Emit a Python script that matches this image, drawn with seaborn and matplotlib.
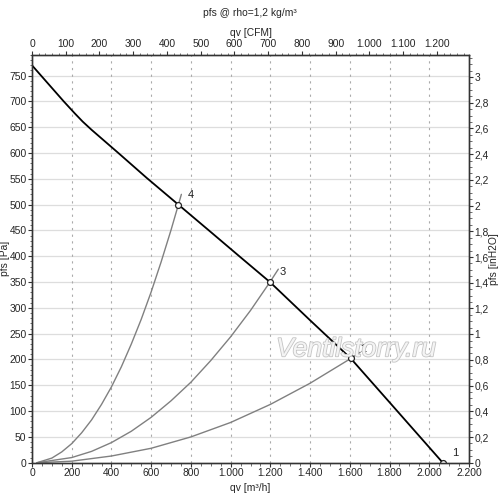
import pandas as pd
import seaborn as sns
import matplotlib.pyplot as plt
import matplotlib.ticker as mticker
import matplotlib.patheffects as pe

# fan curve (qv in m3/h, pfs in Pa)
qv_fan = [0, 80, 160, 215, 255, 300, 435, 577, 737, 900, 1050, 1198, 1400, 1605, 1800, 2068]
pfs_fan = [770, 735, 700, 677, 661, 645, 600, 552, 500, 447, 398, 350, 276, 202, 117, 0]

# operating points
op_qv = [2068, 1605, 1198, 737]
op_pfs = [0, 202, 350, 500]
op_labels = ['1', '2', '3', '4']

# system curves through points 4, 3 and 2
sys4_qv = [25, 100, 150, 200, 250, 300, 350, 400, 450, 500, 550, 600, 650, 700, 737, 752]
sys4_pfs = [0, 9, 21, 37, 58, 83, 113, 147, 186, 230, 278, 331, 389, 451, 500, 520]
sys3_qv = [25, 200, 300, 400, 500, 600, 700, 800, 900, 1000, 1100, 1198, 1240]
sys3_pfs = [0, 10, 22, 39, 61, 88, 120, 156, 198, 244, 295, 350, 375]
sys2_qv = [25, 200, 400, 600, 800, 1000, 1200, 1400, 1605, 1652]
sys2_pfs = [0, 3, 13, 28, 50, 78, 113, 154, 202, 214]

PA_PER_INH2O = 249.089
M3H_PER_CFM = 1.69901
XMAX, YMAX = 2200, 790
FS = 7.4

fan = pd.DataFrame({'qv': qv_fan, 'pfs': pfs_fan})
sys_df = pd.concat([
    pd.DataFrame({'qv': sys4_qv, 'pfs': sys4_pfs, 'curve': '4'}),
    pd.DataFrame({'qv': sys3_qv, 'pfs': sys3_pfs, 'curve': '3'}),
    pd.DataFrame({'qv': sys2_qv, 'pfs': sys2_pfs, 'curve': '2'}),
])

sns.set_style('white')
plt.rcParams['font.family'] = ['Liberation Sans', 'DejaVu Sans']
plt.rcParams['font.size'] = FS

fig = plt.figure(figsize=(5.0, 4.99), dpi=100)
ax = fig.add_axes([0.064, 0.0727, 0.874, 0.8171])

# grid: solid horizontal, dotted vertical
for y in range(50, YMAX, 50):
    ax.axhline(y, color='#dddddd', lw=0.9, zorder=0)
for x in range(200, XMAX, 200):
    ax.axvline(x, color='#aaaaaa', lw=0.8, ls=(0, (2, 4)), zorder=0)

sns.lineplot(data=sys_df, x='qv', y='pfs', units='curve', estimator=None,
             sort=False, color='#808080', lw=1.0, ax=ax, zorder=2)
sns.lineplot(data=fan, x='qv', y='pfs', estimator=None, sort=False,
             color='black', lw=1.3, ax=ax, zorder=3)
ax.scatter(op_qv, op_pfs, s=18, facecolor='white', edgecolor='#222222',
           lw=0.9, zorder=4)
for q, p, lab in zip(op_qv, op_pfs, op_labels):
    ax.annotate(lab, (q, p), xytext=(7, 5), textcoords='offset points',
                fontsize=8, color='#222222')

ax.set_xlim(0, XMAX)
ax.set_ylim(0, YMAX)
ax.set_xticks(range(0, XMAX + 1, 200))
ax.set_yticks(range(0, 751, 50))
ax.xaxis.set_minor_locator(mticker.MultipleLocator(50))
ax.yaxis.set_minor_locator(mticker.MultipleLocator(10))
ax.xaxis.set_major_formatter(mticker.FuncFormatter(
    lambda v, _: f'{int(v):,}'.replace(',', '.')))
ax.set_xlabel('qv [m³/h]', va='center')
ax.set_ylabel('pfs [Pa]', va='center')
ax.xaxis.set_label_coords(0.5, -0.061)
ax.yaxis.set_label_coords(-0.062, 0.5)

# secondary axes
axr = ax.twinx()
axr.set_ylim(0, YMAX / PA_PER_INH2O)
axr.set_yticks([i * 0.2 for i in range(16)])
axr.yaxis.set_minor_locator(mticker.MultipleLocator(0.05))
axr.yaxis.set_major_formatter(mticker.FuncFormatter(
    lambda v, _: (f'{v:.1f}'.rstrip('0').rstrip('.')).replace('.', ',')))
axr.set_ylabel('pfs [inH2O]', rotation=90, va='center')
axr.yaxis.set_label_coords(1.058, 0.5)

axt = ax.twiny()
axt.set_xlim(0, XMAX / M3H_PER_CFM)
axt.set_xticks(range(0, 1201, 100))
axt.xaxis.set_minor_locator(mticker.MultipleLocator(20))
axt.xaxis.set_major_formatter(mticker.FuncFormatter(
    lambda v, _: f'{int(v):,}'.replace(',', '.')))
axt.set_xlabel('qv [CFM]', va='center')
axt.xaxis.set_label_coords(0.5, 1.054)

for a in (ax, axr, axt):
    for s in a.spines.values():
        s.set_color('#333333')
        s.set_linewidth(0.9)
    a.tick_params(which='major', direction='out', length=3, width=0.8,
                  color='#333333', pad=1, labelsize=FS)
    a.tick_params(which='minor', direction='out', length=1.8, width=0.6,
                  color='#555555')
ax.tick_params(axis='both', which='both', bottom=True, left=True,
               top=False, right=False)
axr.tick_params(which='both', right=True, left=False)
axt.tick_params(which='both', top=True, bottom=False)

fig.text(0.5, 0.973, 'pfs @ rho=1,2 kg/m³', ha='center', va='center', fontsize=FS)

# watermark
fig.text(0.712, 0.30, 'Ventilstorry.ru', ha='center', va='center',
         fontsize=19, style='italic', color='#f4f4f4', zorder=1,
         path_effects=[pe.withStroke(linewidth=1.2, foreground='#c4c4c4')])

fig.savefig('out.png', dpi=100)
